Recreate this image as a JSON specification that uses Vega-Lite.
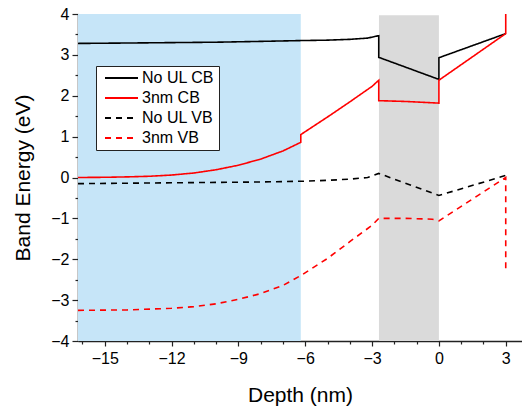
{
  "$schema": "https://vega.github.io/schema/vega-lite/v6.json",
  "autosize": "none",
  "width": 444,
  "height": 327,
  "padding": {"left": 78, "top": 14, "right": 0, "bottom": 65},
  "background": "white",
  "config": {
    "view": {"stroke": null},
    "font": "Liberation Sans",
    "axis": {"grid": false, "domainColor": "#222", "domainWidth": 1.5, "tickColor": "#222", "tickWidth": 1.2, "labelFont": "Liberation Sans", "labelFontSize": 16, "labelColor": "#000", "titleFont": "Liberation Sans", "titleFontSize": 21, "titleFontWeight": "normal", "titleColor": "#000"}
  },
  "datasets": {
    "regions": [
      {"region": "upper", "x0": -16.2, "x1": -6.2, "ytop": 4, "ybot": -4},
      {"region": "lower", "x0": -2.69, "x1": 0, "ytop": 3.97, "ybot": -4}
    ],
    "bands": [
      {"s": "No UL CB", "i": 1, "x": -16.2, "y": 3.28},
      {"s": "No UL CB", "i": 2, "x": -14, "y": 3.29},
      {"s": "No UL CB", "i": 3, "x": -12, "y": 3.30},
      {"s": "No UL CB", "i": 4, "x": -10, "y": 3.31},
      {"s": "No UL CB", "i": 5, "x": -8, "y": 3.33},
      {"s": "No UL CB", "i": 6, "x": -6.2, "y": 3.35},
      {"s": "No UL CB", "i": 7, "x": -5, "y": 3.36},
      {"s": "No UL CB", "i": 8, "x": -4, "y": 3.38},
      {"s": "No UL CB", "i": 9, "x": -3.2, "y": 3.41},
      {"s": "No UL CB", "i": 10, "x": -2.7, "y": 3.47},
      {"s": "No UL CB", "i": 11, "x": -2.7, "y": 2.94},
      {"s": "No UL CB", "i": 12, "x": 0, "y": 2.40},
      {"s": "No UL CB", "i": 13, "x": 0, "y": 2.93},
      {"s": "No UL CB", "i": 14, "x": 3, "y": 3.52},

      {"s": "3nm CB", "i": 1, "x": -16.2, "y": 0.0},
      {"s": "3nm CB", "i": 2, "x": -15, "y": 0.005},
      {"s": "3nm CB", "i": 3, "x": -14, "y": 0.015},
      {"s": "3nm CB", "i": 4, "x": -13, "y": 0.03},
      {"s": "3nm CB", "i": 5, "x": -12, "y": 0.06},
      {"s": "3nm CB", "i": 6, "x": -11, "y": 0.11},
      {"s": "3nm CB", "i": 7, "x": -10, "y": 0.19},
      {"s": "3nm CB", "i": 8, "x": -9, "y": 0.30},
      {"s": "3nm CB", "i": 9, "x": -8, "y": 0.45},
      {"s": "3nm CB", "i": 10, "x": -7, "y": 0.65},
      {"s": "3nm CB", "i": 11, "x": -6.2, "y": 0.86},
      {"s": "3nm CB", "i": 12, "x": -6.2, "y": 1.05},
      {"s": "3nm CB", "i": 13, "x": -5, "y": 1.48},
      {"s": "3nm CB", "i": 14, "x": -4, "y": 1.85},
      {"s": "3nm CB", "i": 15, "x": -3, "y": 2.23},
      {"s": "3nm CB", "i": 16, "x": -2.7, "y": 2.38},
      {"s": "3nm CB", "i": 17, "x": -2.7, "y": 1.88},
      {"s": "3nm CB", "i": 18, "x": -1.5, "y": 1.86},
      {"s": "3nm CB", "i": 19, "x": 0, "y": 1.82},
      {"s": "3nm CB", "i": 20, "x": 0, "y": 2.38},
      {"s": "3nm CB", "i": 21, "x": 3, "y": 3.52},
      {"s": "3nm CB", "i": 22, "x": 3, "y": 4.0},

      {"s": "No UL VB", "i": 1, "x": -16.2, "y": -0.15},
      {"s": "No UL VB", "i": 2, "x": -14, "y": -0.14},
      {"s": "No UL VB", "i": 3, "x": -12, "y": -0.13},
      {"s": "No UL VB", "i": 4, "x": -10, "y": -0.12},
      {"s": "No UL VB", "i": 5, "x": -8, "y": -0.11},
      {"s": "No UL VB", "i": 6, "x": -6, "y": -0.09},
      {"s": "No UL VB", "i": 7, "x": -5, "y": -0.07},
      {"s": "No UL VB", "i": 8, "x": -4, "y": -0.04},
      {"s": "No UL VB", "i": 9, "x": -3.2, "y": 0.0},
      {"s": "No UL VB", "i": 10, "x": -2.7, "y": 0.1},
      {"s": "No UL VB", "i": 11, "x": 0, "y": -0.44},
      {"s": "No UL VB", "i": 12, "x": 3, "y": 0.05},

      {"s": "3nm VB", "i": 1, "x": -16.2, "y": -3.25},
      {"s": "3nm VB", "i": 2, "x": -14, "y": -3.24},
      {"s": "3nm VB", "i": 3, "x": -12, "y": -3.2},
      {"s": "3nm VB", "i": 4, "x": -11, "y": -3.16},
      {"s": "3nm VB", "i": 5, "x": -10, "y": -3.09},
      {"s": "3nm VB", "i": 6, "x": -9, "y": -2.98},
      {"s": "3nm VB", "i": 7, "x": -8, "y": -2.84},
      {"s": "3nm VB", "i": 8, "x": -7, "y": -2.64},
      {"s": "3nm VB", "i": 9, "x": -6.2, "y": -2.40},
      {"s": "3nm VB", "i": 10, "x": -5, "y": -1.98},
      {"s": "3nm VB", "i": 11, "x": -4, "y": -1.57},
      {"s": "3nm VB", "i": 12, "x": -3, "y": -1.17},
      {"s": "3nm VB", "i": 13, "x": -2.7, "y": -1.0},
      {"s": "3nm VB", "i": 14, "x": -1.5, "y": -1.0},
      {"s": "3nm VB", "i": 15, "x": -0.3, "y": -1.02},
      {"s": "3nm VB", "i": 16, "x": 0, "y": -1.06},
      {"s": "3nm VB", "i": 17, "x": 3, "y": 0.0},
      {"s": "3nm VB", "i": 18, "x": 3, "y": -2.24}
    ]
  },
  "layer": [
    {
      "data": {"name": "regions"},
      "transform": [{"filter": "datum.region === 'upper'"}],
      "mark": {"type": "rect", "color": "#c6e5f8"},
      "encoding": {
        "x": {"field": "x0", "type": "quantitative", "scale": {"domain": [-16.2, 3.73], "nice": false, "zero": false},
          "title": "Depth (nm)",
          "axis": {
            "orient": "bottom",
            "values": [-15, -12, -9, -6, -3, 0, 3],
            "tickSize": 5,
            "labelPadding": 4,
            "labelOverlap": false,
            "labelFlush": false,
            "titlePadding": 18
          }
        },
        "x2": {"field": "x1"},
        "y": {"field": "ytop", "type": "quantitative", "scale": {"domain": [-4, 4], "nice": false, "zero": false},
          "title": "Band Energy (eV)",
          "axis": {
            "orient": "left",
            "values": [-4, -3, -2, -1, 0, 1, 2, 3, 4],
            "tickSize": 6,
            "labelPadding": 3,
            "labelOverlap": false,
            "labelFlush": false,
            "titlePadding": 17
          }
        },
        "y2": {"field": "ybot"}
      }
    },
    {
      "data": {"name": "regions"},
      "transform": [{"filter": "datum.region === 'lower'"}],
      "mark": {"type": "rect", "color": "#dadada"},
      "encoding": {
        "x": {"field": "x0", "type": "quantitative", "axis": null},
        "x2": {"field": "x1"},
        "y": {"field": "ytop", "type": "quantitative", "axis": null},
        "y2": {"field": "ybot"}
      }
    },
    {
      "data": {"name": "bands"},
      "mark": {"type": "line", "strokeWidth": 1.6, "clip": false},
      "encoding": {
        "x": {"field": "x", "type": "quantitative",
          "axis": {"orient": "bottom", "values": [-16, -14, -13, -11, -10, -8, -7, -5, -4, -2, -1, 1, 2], "tickSize": 3, "labels": false, "domain": false, "title": null}
        },
        "y": {"field": "y", "type": "quantitative",
          "axis": {"orient": "left", "values": [-3.5, -2.5, -1.5, -0.5, 0.5, 1.5, 2.5, 3.5], "tickSize": 3, "labels": false, "domain": false, "title": null}
        },
        "order": {"field": "i", "type": "quantitative"},
        "color": {"field": "s", "type": "nominal", "title": null,
          "scale": {"domain": ["No UL CB", "3nm CB", "No UL VB", "3nm VB"], "range": ["#000000", "#ff0000", "#000000", "#ff0000"]},
          "legend": {"orient": "none", "legendX": 18, "legendY": 52, "strokeColor": "#222", "fillColor": "white", "padding": 4, "symbolType": "M-3.3,0H3.3", "symbolSize": 100, "symbolOffset": 13.5, "symbolStrokeWidth": 2, "labelFontSize": 16, "labelFont": "Liberation Sans", "labelColor": "#000", "rowPadding": 4, "labelOffset": 12.5}
        },
        "strokeDash": {"field": "s", "type": "nominal", "title": null,
          "scale": {"domain": ["No UL CB", "3nm CB", "No UL VB", "3nm VB"], "range": [[1, 0], [1, 0], [6, 5], [6, 5]]},
          "legend": {"orient": "none", "legendX": 18, "legendY": 52, "strokeColor": "#222", "fillColor": "white", "padding": 4, "symbolType": "M-3.3,0H3.3", "symbolSize": 100, "symbolOffset": 13.5, "symbolStrokeWidth": 2, "labelFontSize": 16, "labelFont": "Liberation Sans", "labelColor": "#000", "rowPadding": 4, "labelOffset": 12.5}
        }
      }
    }
  ],
  "resolve": {"axis": {"x": "independent", "y": "independent"}}
}
